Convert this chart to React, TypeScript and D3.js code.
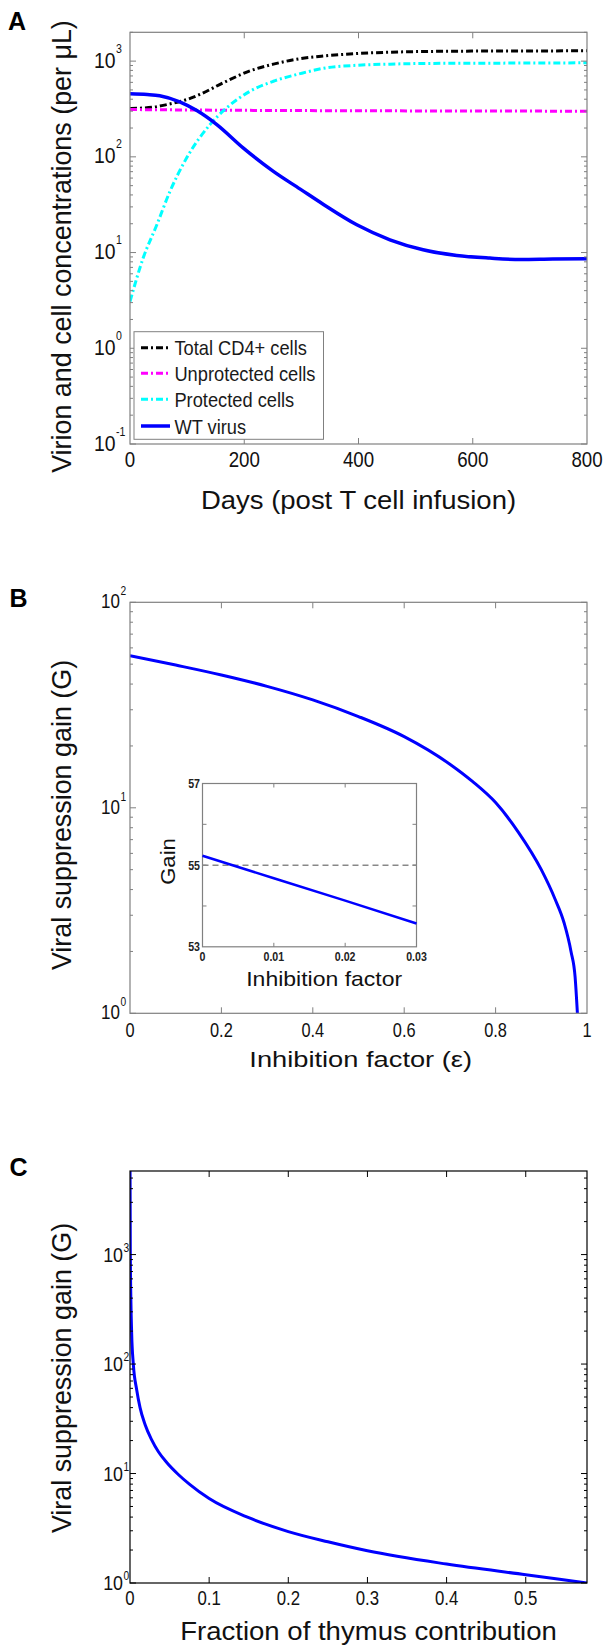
import * as d3 from "d3";

const FONT = "'Liberation Sans', Arial, Helvetica, sans-serif";
const W = 605;
const H = 1648;

// ---- panel A: concentrations vs days ----
const daysTicks = [0, 200, 400, 600, 800];
const totalDays = [0, 40, 64, 99, 122, 163, 210, 251, 298, 338, 397, 455, 513, 600, 700, 800];
const totalCells = [320, 330, 351, 396, 448, 593, 790, 930, 1060, 1130, 1200, 1240, 1260, 1272, 1278, 1280];
const unprotDays = [0, 200, 400, 600, 800];
const unprotCells = [312, 306, 303, 301, 300];
const protDays = [0, 23, 47, 70, 99, 140, 169, 210, 251, 298, 338, 397, 455, 513, 600, 700, 800];
const protCells = [3.08, 8.75, 19.5, 43.6, 97, 217, 324, 484, 616, 740, 840, 905, 930, 945, 950, 955, 960];
const wtDays = [0, 30, 52, 87, 117, 152, 198, 251, 298, 338, 397, 455, 513, 572, 630, 684, 740, 800];
const wtVirus = [455, 447, 434, 375, 304, 217, 124, 70.5, 46, 32, 19.5, 13.6, 10.7, 9.33, 8.75, 8.45, 8.55, 8.6];
const legendNames = ["Total CD4+ cells", "Unprotected cells", "Protected cells", "WT virus"];

// ---- panel B: gain vs inhibition factor ----
const epsTicks = [0, 0.2, 0.4, 0.6, 0.8, 1];
const epsVals = [0, 0.1, 0.2, 0.3, 0.4, 0.5, 0.6, 0.7, 0.75, 0.8, 0.85, 0.9, 0.93, 0.95, 0.965, 0.974, 0.979];
const gainVals = [55.0, 49.5, 44.3, 39, 33.5, 27.8, 22.2, 16.3, 13.4, 10.6, 7.6, 5.0, 3.6, 2.75, 2.0, 1.5, 1.0];
// inset
const insetEps = [0, 0.01, 0.02, 0.03];
const insetGain = [55.23, 54.68, 54.13, 53.57];
const insetXTicks = [0, 0.01, 0.02, 0.03];
const insetYTicks = [53, 54, 55, 56, 57];
const insetYLabels = [53, 55, 57];
const insetRef = 55;

// ---- panel C: gain vs thymus fraction ----
const fracTicks = [0, 0.1, 0.2, 0.3, 0.4, 0.5];
const fracVals = [0.00007, 0.0004, 0.0021, 0.0042, 0.0085, 0.0127, 0.019, 0.0274, 0.0359, 0.0464, 0.061, 0.075, 0.1, 0.15, 0.2, 0.25, 0.3, 0.4, 0.5, 0.5774];
const thymusGain = [5800, 1000, 191, 100, 58, 40, 28, 20.3, 15.8, 12.6, 9.8, 8.0, 5.9, 3.95, 2.95, 2.38, 1.97, 1.49, 1.19, 1.0];

const DASHDOT = "7,3,2,3";

function Txt({ x, y, size, sx = 1, anchor = "start", rot = 0, weight = 400, fill = "#111", children }: any) {
  return (
    <text
      transform={`translate(${x},${y}) rotate(${rot}) scale(${sx},1)`}
      fontSize={size}
      textAnchor={anchor}
      fontWeight={weight}
      fill={fill}
      fontFamily={FONT}
    >
      {children}
    </text>
  );
}

// box with inward ticks, log y axis
function LogFrame({ x, y, xTicks, color, xLab, yLab }: any) {
  const [x0, x1] = x.range();
  const [y0, y1] = y.range();
  const ticks = y.ticks();
  const isMajor = (t: number) => Math.abs(Math.log10(t) - Math.round(Math.log10(t))) < 1e-9;
  const majors = ticks.filter(isMajor);
  return (
    <g>
      <rect x={x0} y={y1} width={x1 - x0} height={y0 - y1} fill="none" stroke={color} strokeWidth={1.2} />
      {xTicks.slice(1, -1).map((t: number) => (
        <g key={"xt" + t} stroke={color} strokeWidth={1}>
          <line x1={x(t)} x2={x(t)} y1={y0} y2={y0 - 6} />
          <line x1={x(t)} x2={x(t)} y1={y1} y2={y1 + 6} />
        </g>
      ))}
      {ticks.map((t: number) => {
        const len = isMajor(t) ? 6 : 3;
        return (
          <g key={"yt" + t} stroke={color} strokeWidth={1}>
            <line x1={x0} x2={x0 + len} y1={y(t)} y2={y(t)} />
            <line x1={x1} x2={x1 - len} y1={y(t)} y2={y(t)} />
          </g>
        );
      })}
      {xTicks.map((t: number) => (
        <Txt key={"xl" + t} x={x(t)} y={xLab.base} size={xLab.size} sx={xLab.sx} anchor="middle">
          {xLab.fmt(t)}
        </Txt>
      ))}
      {majors.map((t: number) => (
        <g key={"yl" + t}>
          <Txt x={yLab.right} y={y(t) + yLab.dy} size={yLab.size} sx={yLab.sx} anchor="end">
            10
          </Txt>
          <Txt x={yLab.right + 0.5} y={y(t) + yLab.supDy} size={12} sx={yLab.sx}>
            {String(Math.round(Math.log10(t)))}
          </Txt>
        </g>
      ))}
    </g>
  );
}

export default function App() {
  // A
  const xA = d3.scaleLinear().domain([0, 800]).range([130, 587]);
  const yA = d3.scaleLog().domain([0.1, 2000]).range([444, 32.3]);
  const lineA = (xs: number[], vs: number[]) =>
    d3.line<number>().x((_, i) => xA(xs[i])).y((v) => yA(v)).curve(d3.curveMonotoneX)(vs) as string;
  const seriesA = [
    { name: legendNames[0], d: lineA(totalDays, totalCells), color: "#000000", dash: DASHDOT, w: 3 },
    { name: legendNames[1], d: lineA(unprotDays, unprotCells), color: "#ff00ff", dash: DASHDOT, w: 3 },
    { name: legendNames[2], d: lineA(protDays, protCells), color: "#00ffff", dash: DASHDOT, w: 3 },
    { name: legendNames[3], d: lineA(wtDays, wtVirus), color: "#0000ff", dash: undefined, w: 3.5 },
  ];
  const legRows = [347.7, 373.3, 399.3, 426];

  // B
  const xB = d3.scaleLinear().domain([0, 1]).range([130, 587]);
  const yB = d3.scaleLog().domain([1, 100]).range([1013.3, 602.3]);
  const lineB = d3.line<number>().x((_, i) => xB(epsVals[i])).y((v) => yB(v)).curve(d3.curveMonotoneX)(gainVals) as string;
  const xI = d3.scaleLinear().domain([0, 0.03]).range([202.5, 416.5]);
  const yI = d3.scaleLinear().domain([53, 57]).range([946.8, 783.5]);
  const lineI = d3.line<number>().x((_, i) => xI(insetEps[i])).y((v) => yI(v))(insetGain) as string;

  // C
  const xC = d3.scaleLinear().domain([0, 0.5774]).range([130, 587]);
  const yC = d3.scaleLog().domain([1, 5800]).range([1583, 1171]);
  const lineC = d3.line<number>().x((_, i) => xC(fracVals[i])).y((v) => yC(v)).curve(d3.curveMonotoneX)(thymusGain) as string;

  const gray = "#808080";

  return (
    <svg width={W} height={H} style={{ position: "absolute", left: 0, top: 0, background: "#fff" }}>
      <defs>
        <clipPath id="clipA"><rect x={130} y={32.3} width={457} height={411.7} /></clipPath>
        <clipPath id="clipB"><rect x={130} y={602.3} width={457} height={411} /></clipPath>
        <clipPath id="clipC"><rect x={130} y={1171} width={457} height={412} /></clipPath>
      </defs>

      {/* ---------- A ---------- */}
      <Txt x={8} y={30} size={25} weight={700} fill="#000">A</Txt>
      <g clipPath="url(#clipA)">
        {seriesA.map((s) => (
          <path key={s.name} d={s.d} fill="none" stroke={s.color} strokeWidth={s.w} strokeDasharray={s.dash} />
        ))}
      </g>
      <LogFrame
        x={xA}
        y={yA}
        xTicks={daysTicks}
        color={gray}
        xLab={{ base: 466.5, size: 22, sx: 0.85, fmt: (t: number) => String(t) }}
        yLab={{ right: 115.5, dy: 6.5, supDy: -8.5, size: 22, sx: 0.88 }}
      />
      <rect x={134} y={331.7} width={189.5} height={107.6} fill="#fff" stroke={gray} strokeWidth={1} />
      {seriesA.map((s, i) => (
        <g key={"lg" + i}>
          <line x1={141} x2={170} y1={legRows[i]} y2={legRows[i]} stroke={s.color} strokeWidth={s.w} strokeDasharray={s.dash} />
          <Txt x={174.4} y={legRows[i] + 7.5} size={21} sx={0.87} fill="#1a1a1a">{s.name}</Txt>
        </g>
      ))}
      <Txt x={358.5} y={509} size={25} sx={1.1} anchor="middle">Days (post T cell infusion)</Txt>
      <Txt x={71} y={246.5} size={28} sx={0.96} rot={-90} anchor="middle">Virion and cell concentrations (per μL)</Txt>

      {/* ---------- B ---------- */}
      <Txt x={9.6} y={607} size={25} weight={700} fill="#000">B</Txt>
      <g clipPath="url(#clipB)">
        <path d={lineB} fill="none" stroke="#0000ff" strokeWidth={3} />
      </g>
      <LogFrame
        x={xB}
        y={yB}
        xTicks={epsTicks}
        color={gray}
        xLab={{ base: 1036.7, size: 21, sx: 0.78, fmt: (t: number) => String(t) }}
        yLab={{ right: 120, dy: 6, supDy: -7, size: 20, sx: 0.85 }}
      />
      <Txt x={360.7} y={1067} size={22} sx={1.24} anchor="middle">Inhibition factor (ε)</Txt>
      <Txt x={71} y={815} size={28} sx={0.96} rot={-90} anchor="middle">Viral suppression gain (G)</Txt>

      {/* inset */}
      <g>
        <rect x={202.5} y={783.5} width={214} height={163.3} fill="#fff" stroke={gray} strokeWidth={1.2} />
        {insetYTicks.slice(1, -1).map((t) => (
          <g key={"iy" + t} stroke={gray} strokeWidth={1}>
            <line x1={202.5} x2={206.5} y1={yI(t)} y2={yI(t)} />
            <line x1={416.5} x2={412.5} y1={yI(t)} y2={yI(t)} />
          </g>
        ))}
        {insetXTicks.slice(1, -1).map((t) => (
          <g key={"ix" + t} stroke={gray} strokeWidth={1}>
            <line x1={xI(t)} x2={xI(t)} y1={946.8} y2={942.8} />
            <line x1={xI(t)} x2={xI(t)} y1={783.5} y2={787.5} />
          </g>
        ))}
        <line x1={202.5} x2={416.5} y1={yI(insetRef)} y2={yI(insetRef)} stroke="#888" strokeWidth={1.5} strokeDasharray="6,4" />
        <path d={lineI} fill="none" stroke="#0000ff" strokeWidth={2.5} />
        {insetYLabels.map((t) => (
          <Txt key={"iyl" + t} x={200} y={yI(t) + 4.5} size={12.5} sx={0.85} weight={700} anchor="end" fill="#222">
            {String(t)}
          </Txt>
        ))}
        {insetXTicks.map((t) => (
          <Txt key={"ixl" + t} x={xI(t)} y={961} size={12.5} sx={0.85} weight={700} anchor="middle" fill="#222">
            {t === 0 ? "0" : t.toFixed(2)}
          </Txt>
        ))}
        <Txt x={324.2} y={986} size={20} sx={1.15} anchor="middle">Inhibition factor</Txt>
        <Txt x={175} y={861.5} size={21} sx={1.05} rot={-90} anchor="middle">Gain</Txt>
      </g>

      {/* ---------- C ---------- */}
      <Txt x={9.6} y={1176} size={25} weight={700} fill="#000">C</Txt>
      <g clipPath="url(#clipC)">
        <path d={lineC} fill="none" stroke="#0000ff" strokeWidth={3} />
      </g>
      <LogFrame
        x={xC}
        y={yC}
        xTicks={fracTicks.concat([0.5774])}
        color="#000"
        xLab={{ base: 1605, size: 21, sx: 0.8, fmt: (t: number) => (t > 0.55 ? "" : String(t)) }}
        yLab={{ right: 123, dy: 7, supDy: -3, size: 21, sx: 0.85 }}
      />
      <Txt x={368.5} y={1640} size={26} sx={1.06} anchor="middle">Fraction of thymus contribution</Txt>
      <Txt x={71} y={1378} size={28} sx={0.96} rot={-90} anchor="middle">Viral suppression gain (G)</Txt>
    </svg>
  );
}
